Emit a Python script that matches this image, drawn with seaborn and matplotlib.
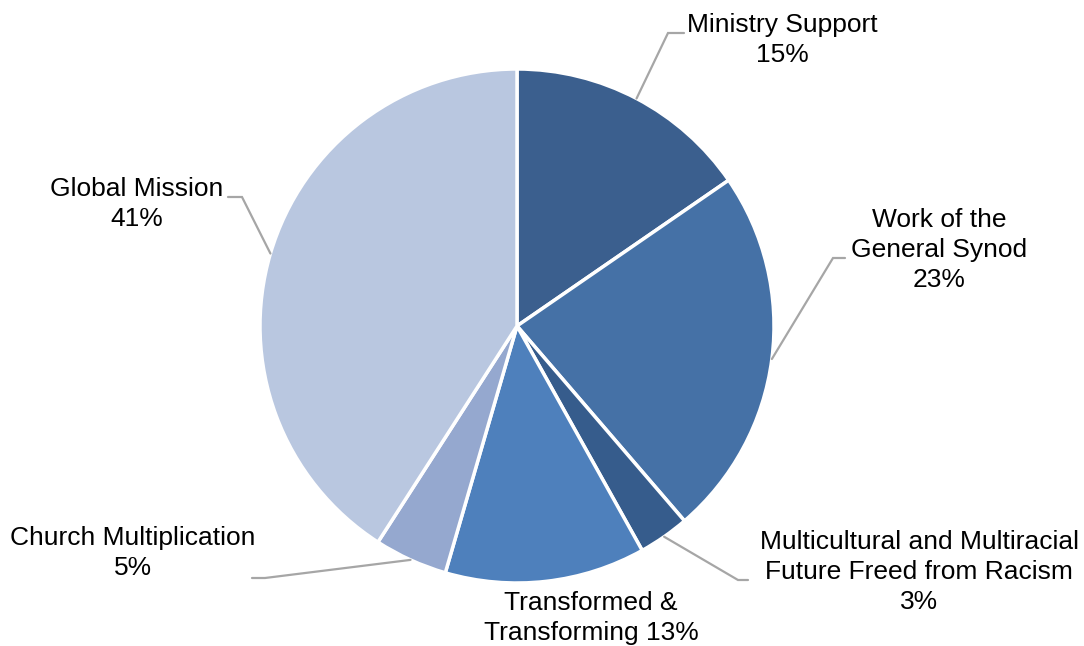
import numpy as np
import matplotlib
matplotlib.use("Agg")
import matplotlib.pyplot as plt
import seaborn as sns

categories = ["Ministry Support", "Work of the\nGeneral Synod",
              "Multicultural and Multiracial\nFuture Freed from Racism",
              "Transformed &\nTransforming", "Church Multiplication", "Global Mission"]
values = [15.4, 23.3, 3.2, 12.6, 4.6, 40.9]
colors = ["#3B5F8E", "#4571A6", "#365C8C", "#4E80BC", "#95A8CF", "#B9C7E0"]

sns.set_theme(style="white")
plt.rcParams["font.family"] = ["Liberation Sans", "DejaVu Sans"]

W, H = 1084, 646
fig = plt.figure(figsize=(W / 100, H / 100), dpi=100)
ax = fig.add_axes([0, 0, 1, 1])

cx, cy, r = 517, H - 326, 257
wedges, _ = ax.pie(values, colors=colors, startangle=90, counterclock=False,
                   center=(cx, cy), radius=r, frame=True,
                   wedgeprops=dict(edgecolor="white", linewidth=2.5))
ax.set_xlim(0, W)
ax.set_ylim(0, H)
ax.axis("off")

# label text centers (pixels from top); leader elbow & end points (pixels from top)
label_pos = [(782, 40), (939, 250), (919, 572), (591, 618), (133, 553), (137, 204)]
leaders = [((668, 33), (684, 33)),
           ((833, 258), (845, 258)),
           ((738, 580), (748, 580)),
           None,
           ((265, 578), (252, 578)),
           ((242, 197), (228, 197))]

total = sum(values)
cum = np.cumsum([0] + values[:-1])
for i, (cat, v) in enumerate(zip(categories, values)):
    pct = round(v / total * 100)
    if i == 3:
        txt = f"{cat} {pct}%"
    else:
        txt = f"{cat}\n{pct}%"
    lx, ly = label_pos[i]
    ax.text(lx, H - ly, txt, ha="center", va="center", fontsize=19,
            color="#000000", linespacing=1.3)
    if leaders[i] is not None:
        ang = np.deg2rad(90 - (cum[i] + v / 2) / total * 360)
        sx, sy = cx + r * np.cos(ang), cy + r * np.sin(ang)
        (ex, ey), (fx, fy) = leaders[i]
        ax.plot([sx, ex, fx], [sy, H - ey, H - fy], color="#A6A6A6", lw=1.6,
                solid_joinstyle="miter")

fig.savefig("out.png", dpi=100)
